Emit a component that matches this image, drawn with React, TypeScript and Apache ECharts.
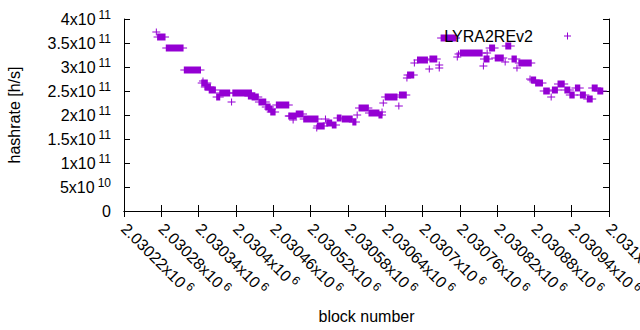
import React, { useEffect, useRef } from "react";
import * as echarts from "echarts";

const seriesName = "LYRA2REv2";
const COLOR = "#9400D3";

// block ranges (first and last block of each run of equal hashrate) and hashrate in GH/s
const blockStart = [
  2030272, 2030274, 2030288, 2030317, 2030347, 2030345, 2030350, 2030357, 2030369, 2030374,
  2030393, 2030395, 2030420, 2030426, 2030437, 2030448, 2030452, 2030456, 2030465, 2030485,
  2030486, 2030492, 2030497, 2030509, 2030531, 2030530, 2030544, 2030546, 2030555, 2030563,
  2030571, 2030588, 2030595, 2030598, 2030614, 2030630, 2030635, 2030637, 2030640, 2030662,
  2030663, 2030675, 2030676, 2030687, 2030692, 2030711, 2030712, 2030727, 2030727, 2030730,
  2030756, 2030758, 2030761, 2030798, 2030799, 2030804, 2030808, 2030817, 2030833, 2030834,
  2030844, 2030852, 2030855, 2030873, 2030875, 2030882, 2030895, 2030907, 2030909, 2030918,
  2030929, 2030937, 2030946, 2030954, 2030965, 2030973, 2030982,
];
const blockEnd = [
  2030272, 2030286, 2030315, 2030343, 2030347, 2030354, 2030359, 2030367, 2030374, 2030390,
  2030393, 2030425, 2030430, 2030436, 2030448, 2030455, 2030458, 2030463, 2030485, 2030485,
  2030497, 2030492, 2030508, 2030532, 2030542, 2030530, 2030544, 2030554, 2030561, 2030569,
  2030587, 2030593, 2030595, 2030613, 2030630, 2030635, 2030635, 2030637, 2030659, 2030662,
  2030674, 2030675, 2030686, 2030687, 2030708, 2030711, 2030723, 2030727, 2030727, 2030754,
  2030756, 2030758, 2030796, 2030798, 2030807, 2030804, 2030816, 2030830, 2030833, 2030842,
  2030851, 2030852, 2030875, 2030873, 2030882, 2030893, 2030904, 2030907, 2030917, 2030928,
  2030937, 2030944, 2030953, 2030962, 2030973, 2030981, 2030990,
];
const hashrateGH = [
  372.3, 361.9, 339.0, 293.1, 270.8, 266.0, 259.0, 251.5, 237.5, 245.2,
  226.5, 245.2, 240.2, 236.9, 226.5, 216.0, 211.9, 206.9, 220.2, 198.5,
  198.5, 189.6, 201.5, 191.0, 177.7, 173.5, 191.0, 184.0, 179.8, 194.4,
  191.0, 186.0, 199.4, 214.0, 203.5, 199.4, 206.9, 225.6, 236.9, 219.4,
  241.0, 276.5, 282.7, 307.7, 313.9, 295.2, 316.7, 297.3, 304.2, 359.8,
  320.2, 326.5, 328.5, 302.1, 316.0, 328.5, 339.0, 319.4, 309.8, 343.7,
  316.0, 297.3, 307.7, 275.0, 271.9, 266.0, 249.0, 236.5, 252.1, 263.9,
  251.5, 241.0, 255.6, 241.7, 232.7, 255.6, 249.4,
];

const xMin = 2030220;
const xMax = 2031000;
const xStep = 60;
const yMin = 0;
const yMax = 4e11;
const yStep = 5e10;

const FONT = "'Liberation Sans', Arial, sans-serif";

function sciLabel(v: number): string {
  if (v === 0) return "{b|0}";
  const exp = Math.floor(Math.log10(Math.abs(v)) + 1e-9);
  const m = parseFloat((v / Math.pow(10, exp)).toFixed(6));
  return `{b|${m}x10}{s|${exp}}`;
}

const rich = {
  b: { fontSize: 16, fontFamily: FONT, color: "#000", lineHeight: 20 },
  s: { fontSize: 12, fontFamily: FONT, color: "#000", lineHeight: 12, verticalAlign: "top", padding: [0, 0, 0, 3] },
};

// legend sample: a "+" preceded by an empty gap (tiny dot keeps the gap in the icon bounds)
const legendIcon = "path://M0,3h0.01v0.01h-0.01zM26,3h7v1h-7zM29,0h1v7h-1z";

export default function App() {
  const ref = useRef<HTMLDivElement>(null);
  useEffect(() => {
    if (!ref.current) return;
    const chart = echarts.init(ref.current, null, { renderer: "svg" });
    const data = blockStart.map((s, i) => [s, blockEnd[i], hashrateGH[i] * 1e9]);
    const axisLine = { show: true, lineStyle: { color: "#000", width: 1 } };
    const tick = { show: true, inside: true, length: 6, lineStyle: { color: "#000" } };
    chart.setOption({
      animation: false,
      backgroundColor: "#fff",
      grid: { left: 124, right: 31, top: 19, bottom: 119, containLabel: false, outerBoundsMode: "none" },
      legend: {
        show: true,
        data: [{ name: seriesName, icon: legendIcon, itemStyle: { color: COLOR } }],
        right: 64,
        top: 23,
        padding: 5,
        align: "right",
        itemWidth: 33,
        itemHeight: 7,
        textStyle: { fontSize: 16, fontFamily: FONT, color: "#000" },
        selectedMode: false,
      },
      xAxis: [
        {
          type: "value",
          min: xMin,
          max: xMax,
          interval: xStep,
          position: "bottom",
          name: "block number",
          nameLocation: "middle",
          nameGap: 97,
          nameTextStyle: { fontSize: 16, fontFamily: FONT, color: "#000" },
          axisLine,
          axisTick: tick,
          splitLine: { show: false },
          axisLabel: {
            rotate: -45,
            margin: 15,
            formatter: (v: number) => sciLabel(v),
            rich,
            showMinLabel: true,
            showMaxLabel: true,
            hideOverlap: false,
          },
        },
        {
          type: "value",
          min: xMin,
          max: xMax,
          interval: xStep,
          position: "top",
          axisLine,
          axisTick: tick,
          splitLine: { show: false },
          axisLabel: { show: false },
        },
      ],
      yAxis: [
        {
          type: "value",
          min: yMin,
          max: yMax,
          interval: yStep,
          position: "left",
          name: "hashrate [h/s]",
          nameLocation: "middle",
          nameGap: 102,
          nameTextStyle: { fontSize: 16, fontFamily: FONT, color: "#000" },
          axisLine,
          axisTick: tick,
          splitLine: { show: false },
          axisLabel: { margin: 13, formatter: (v: number) => sciLabel(v), rich },
        },
        {
          type: "value",
          min: yMin,
          max: yMax,
          interval: yStep,
          position: "right",
          axisLine,
          axisTick: tick,
          splitLine: { show: false },
          axisLabel: { show: false },
        },
      ],
      series: [
        {
          type: "custom",
          name: seriesName,
          xAxisIndex: 0,
          yAxisIndex: 0,
          itemStyle: { color: COLOR },
          encode: { x: [0, 1], y: 2 },
          data,
          renderItem: (params: any, api: any) => {
            const s = api.coord([api.value(0), api.value(2)]);
            const e = api.coord([api.value(1), api.value(2)]);
            const y = Math.round(s[1]);
            return {
              type: "group",
              children: [
                {
                  type: "rect",
                  shape: { x: s[0] - 0.5, y: y - 3.5, width: e[0] - s[0] + 1, height: 7 },
                  style: { fill: COLOR },
                },
                {
                  type: "line",
                  shape: { x1: s[0] - 4, y1: y, x2: e[0] + 4, y2: y },
                  style: { stroke: COLOR, lineWidth: 1 },
                },
              ],
            };
          },
        },
      ],
    });
    return () => chart.dispose();
  }, []);
  return (
    <div
      ref={ref}
      style={{ position: "fixed", left: 0, top: 0, width: 640, height: 330, background: "#fff" }}
    />
  );
}
